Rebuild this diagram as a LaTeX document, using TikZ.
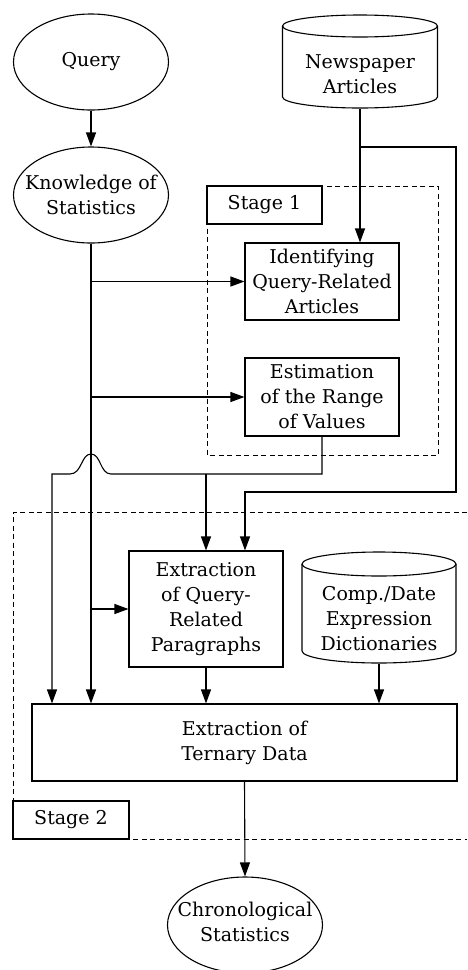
\documentclass[tikz,border=0pt]{standalone}
\usepackage{fontspec}
\setmainfont{DejaVu Serif}
\usetikzlibrary{arrows.meta,shapes.geometric}
\begin{document}
\begin{tikzpicture}[x=1pt,y=-1pt,
  line width=1.1pt,
  txt/.style={font=\fontsize{19}{25}\selectfont, align=center, inner sep=0pt},
  ell/.style={draw, ellipse, inner sep=0pt, minimum width=155pt, minimum height=96pt},
  box/.style={txt, draw, rectangle, minimum width=154pt},
  lab/.style={txt, draw, rectangle, fill=white},
  hid/.style={rectangle, inner sep=0pt, minimum width=155pt},
  arr/.style={-{Triangle[length=14pt,width=10pt]}},
  dsh/.style={dash pattern=on 5pt off 3.5pt, line width=1pt},
]
\useasboundingbox (0,0) rectangle (467,970);
% stage frames
\draw[dsh] (207,186) rectangle (438,455);
\draw[dsh] (467,512) -- (13,512) -- (13,839) -- (467,839);
\node[lab, minimum width=115pt, minimum height=38pt] (s1) at (264.5,205) {Stage 1};
\node[lab, minimum width=116pt, minimum height=38pt] (s2) at (71,820) {Stage 2};
% ellipses
\node[ell] (query) at (91,62) {};
\node[txt] (queryt) at (query) {Query};
\node[ell] (know) at (91,195) {};
\node[txt] (knowt) at (know) {Knowledge of\\Statistics};
\node[ell] (chrono) at (245,925) {};
\node[txt] (chronot) at (245,922) {Chronological\\Statistics};
% cylinders
\node[hid, minimum height=93pt] (news) at (360,61.5) {};
\draw (360,26) ellipse [x radius=77.5pt, y radius=11pt];
\draw (282.5,26) -- (282.5,97) arc[start angle=180, end angle=360, x radius=77.5pt, y radius=11pt] -- (437.5,26);
\node[txt] (newst) at (360,74) {Newspaper\\Articles};
\node[hid, minimum height=111pt] (dict) at (379,607.5) {};
\draw (379,564) ellipse [x radius=77pt, y radius=12pt];
\draw (302,564) -- (302,651) arc[start angle=180, end angle=360, x radius=77pt, y radius=12pt] -- (456,564);
\node[txt] (dictt) at (379,619) {Comp./Date\\Expression\\Dictionaries};
% boxes
\node[box, minimum height=77pt] (ident) at (322,281.5) {Identifying\\Query-Related\\Articles};
\node[box, minimum height=78pt] (estim) at (322,397) {Estimation\\of the Range\\of Values};
\node[box, minimum height=116pt] (extr) at (206,609) {Extraction\\of Query-\\Related\\Paragraphs};
\node[box, minimum width=425pt, minimum height=77pt] (tern) at (244.5,742.5) {Extraction of\\Ternary Data};
% connectors
\draw[arr] (query) -- (know);
\draw[arr] (news.south) -- (news.south |- ident.north);
\coordinate (nb) at (360,147);
\coordinate (nr) at (456,147);
\coordinate (nd) at (456,492);
\coordinate (nl) at (245,492);
\draw[arr] (nb) -- (nr) -- (nd) -- (nl) -- (nl |- extr.north);
\draw[arr] (know.south) -- (know.south |- tern.north);
\draw[arr] (know.south |- ident.west) -- (ident.west);
\draw[arr] (know.south |- estim.west) -- (estim.west);
\draw[arr] (know.south |- extr.west) -- (extr.west);
\coordinate (e1) at (322,474);
\coordinate (h1) at (111,474);
\coordinate (h2) at (70,474);
\coordinate (e2) at (52,474);
\draw[arr] (estim.south) -- (e1) -- (h1) .. controls (100,474) and (101,454) .. (91,454) .. controls (81,454) and (82,474) .. (h2) -- (e2) -- (e2 |- tern.north);
\coordinate (eb) at (206,474);
\draw[arr] (eb) -- (extr.north);
\draw[arr] (extr.south) -- (extr.south |- tern.north);
\draw[arr] (dict.south) -- (dict.south |- tern.north);
\draw[arr] (tern.south) -- (chrono.north);
\end{tikzpicture}
\end{document}
